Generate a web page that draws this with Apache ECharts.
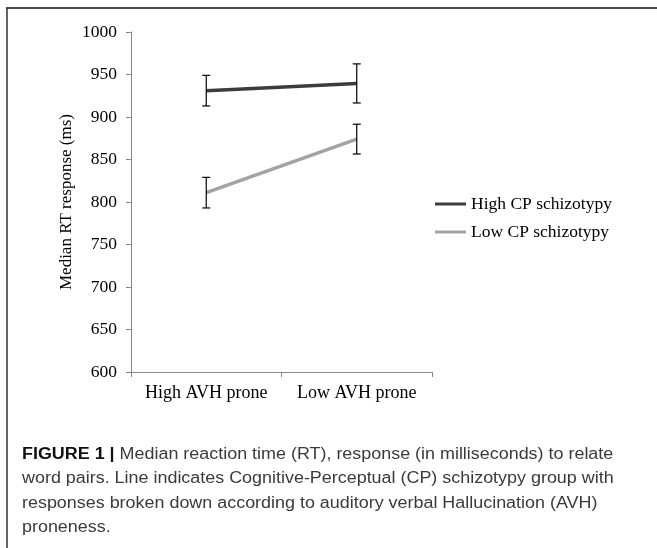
<!DOCTYPE html>
<html><head><meta charset="utf-8">
<script src="https://cdn.jsdelivr.net/npm/echarts@6/dist/echarts.min.js"></script>
<style>html,body{margin:0;padding:0;background:#fff}#c{width:657px;height:548px}</style>
</head><body><div id="c"></div>
<script>
// ---- data ----
const categories = ['High AVH prone', 'Low AVH prone'];
const seriesNames = ['High CP schizotypy', 'Low CP schizotypy'];
const highCP = [931, 939.5];
const highCPErr = [18, 23];
const lowCP = [811, 874];
const lowCPErr = [18, 17.5];
const yMin = 600, yMax = 1000, yStep = 50;
const yTitle = 'Median RT response (ms)';
const captionBold = 'FIGURE 1 |';
const captionLines = [
  ' Median reaction time (RT), response (in milliseconds) to relate',
  'word pairs. Line indicates Cognitive-Perceptual (CP) schizotypy group with',
  'responses broken down according to auditory verbal Hallucination (AVH)',
  'proneness.'
];

const serif = '"Liberation Serif", "Times New Roman", serif';
const sans = '"Liberation Sans", Arial, sans-serif';

function errData(vals, errs) {
  return vals.map((v, i) => [i, v - errs[i], v + errs[i]]);
}
function errRender(params, api) {
  const x = api.value(0);
  const lo = api.coord([x, api.value(1)]);
  const hi = api.coord([x, api.value(2)]);
  const hw = 4;
  const st = { stroke: '#000', lineWidth: 1.2 };
  return {
    type: 'group',
    children: [
      { type: 'line', shape: { x1: lo[0], y1: lo[1], x2: hi[0], y2: hi[1] }, style: st },
      { type: 'line', shape: { x1: hi[0] - hw, y1: hi[1], x2: hi[0] + hw, y2: hi[1] }, style: st },
      { type: 'line', shape: { x1: lo[0] - hw, y1: lo[1], x2: lo[0] + hw, y2: lo[1] }, style: st }
    ]
  };
}

const graphics = [
  { type: 'line', shape: { x1: 6, y1: 8, x2: 657, y2: 8 }, style: { stroke: '#4a4a4a', lineWidth: 2 } },
  { type: 'line', shape: { x1: 7, y1: 8, x2: 7, y2: 548 }, style: { stroke: '#333', lineWidth: 1.5 } }
];
const capTops = [446.5, 471, 495.5, 520];
captionLines.forEach((t, i) => {
  graphics.push({
    type: 'text', x: 22, y: capTops[i], scaleX: 1.12, scaleY: 1, originX: 0, originY: 0,
    style: {
      text: i === 0 ? '{b|' + captionBold + '}{n|' + t + '}' : '{n|' + t + '}',
      verticalAlign: 'top',
      rich: {
        b: { fontFamily: sans, fontSize: 16, fontWeight: 'bold', fill: '#111' },
        n: { fontFamily: sans, fontSize: 16, fill: '#3a3a3a' }
      }
    }
  });
});

const chart = echarts.init(document.getElementById('c'));
chart.setOption({
  backgroundColor: '#fff',
  animation: false,
  grid: { left: 131, right: 225, top: 32, bottom: 176 },
  legend: {
    orient: 'vertical', left: 430, top: 189, itemGap: 8,
    itemWidth: 31, itemHeight: 3, icon: 'rect',
    textStyle: { fontFamily: serif, fontSize: 17.5, color: '#000', lineHeight: 20 },
    data: seriesNames
  },
  xAxis: {
    type: 'category', data: categories, boundaryGap: true,
    axisLine: { lineStyle: { color: '#868686', width: 1 } },
    axisTick: { show: true, length: 5, lineStyle: { color: '#868686' } },
    axisLabel: { fontFamily: serif, fontSize: 18, color: '#000', margin: 12, interval: 0 },
    splitLine: { show: false }
  },
  yAxis: {
    type: 'value', min: yMin, max: yMax, interval: yStep,
    name: yTitle, nameLocation: 'middle', nameGap: 56, nameRotate: 90,
    nameTextStyle: { fontFamily: serif, fontSize: 17, color: '#000' },
    axisLine: { show: true, lineStyle: { color: '#868686', width: 1 } },
    axisTick: { show: true, length: 5, lineStyle: { color: '#868686' } },
    axisLabel: { fontFamily: serif, fontSize: 17.5, color: '#000', margin: 14,
      formatter: v => String(v) },
    splitLine: { show: false }
  },
  series: [
    { name: seriesNames[0], type: 'line', data: highCP, symbol: 'none', color: '#3c3c3c',
      lineStyle: { width: 3.5, color: '#3c3c3c' }, z: 2 },
    { name: seriesNames[1], type: 'line', data: lowCP, symbol: 'none', color: '#a3a3a3',
      lineStyle: { width: 3.5, color: '#a3a3a3' }, z: 2 },
    { type: 'custom', data: errData(highCP, highCPErr), renderItem: errRender, z: 3 },
    { type: 'custom', data: errData(lowCP, lowCPErr), renderItem: errRender, z: 3 }
  ],
  graphic: graphics
});
</script></body></html>
